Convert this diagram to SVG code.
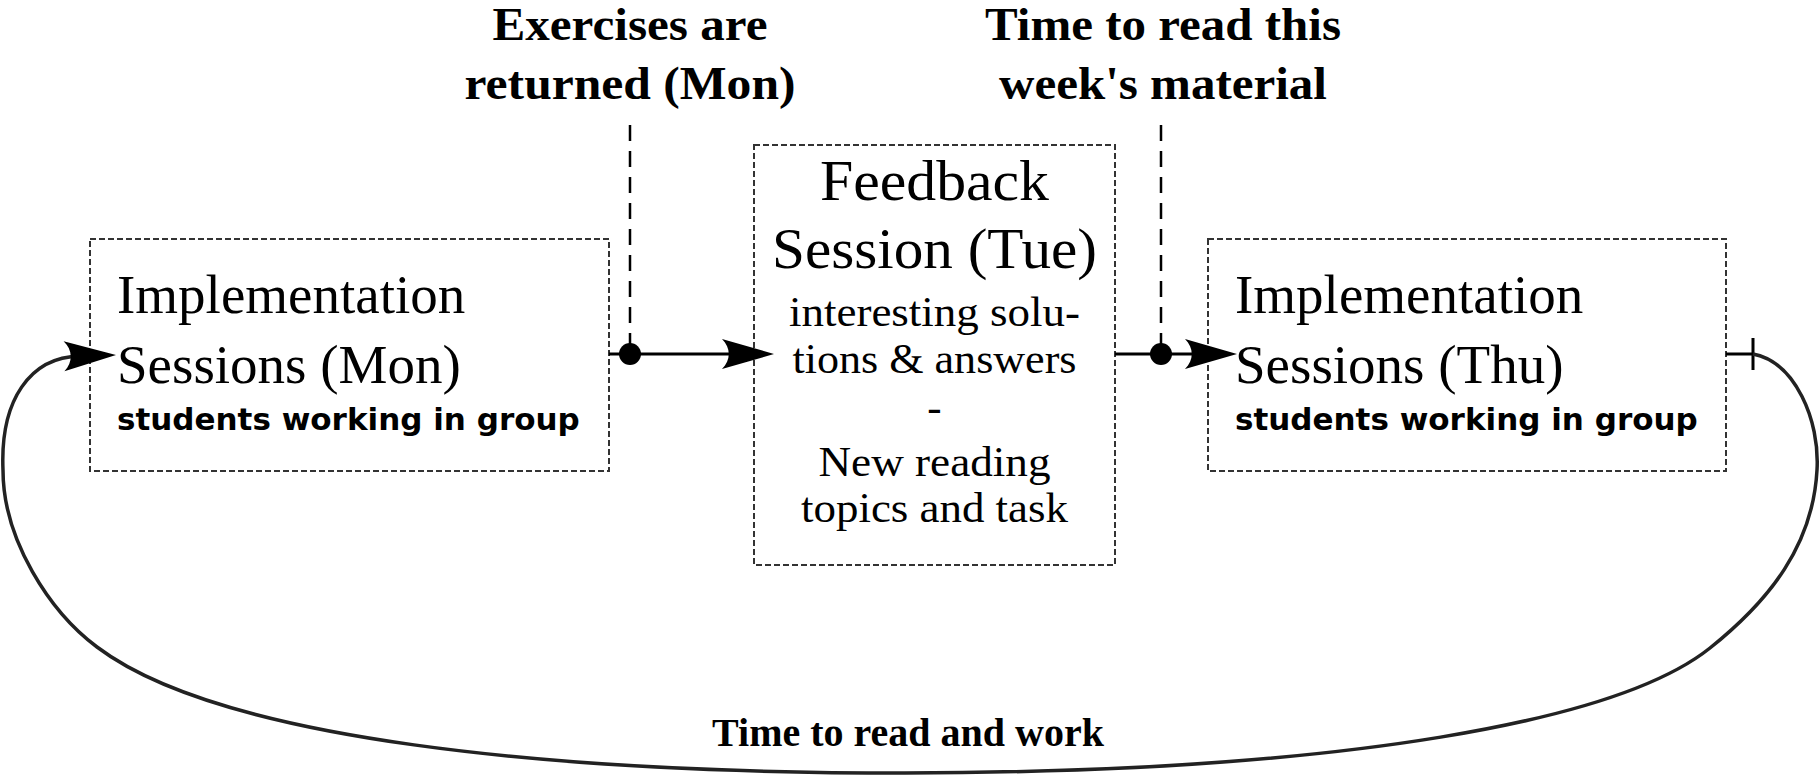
<svg xmlns="http://www.w3.org/2000/svg" width="1819" height="776" viewBox="0 0 1819 776">
<style>
.box{fill:#fff;stroke:#333;stroke-width:2;stroke-dasharray:6 3}
.big{font-family:"Liberation Serif",serif;font-size:55px;fill:#000}
.hdr{font-family:"Liberation Serif",serif;font-size:56px;fill:#000}
.body{font-family:"Liberation Serif",serif;font-size:43px;fill:#000}
.sub{font-family:"DejaVu Sans",sans-serif;font-weight:bold;font-size:31px;fill:#000}
.ttl{font-family:"Liberation Serif",serif;font-weight:bold;font-size:46px;fill:#000}
.ln{fill:none;stroke:#000;stroke-width:3}
.dash{fill:none;stroke:#000;stroke-width:2.5;stroke-dasharray:16 10}
.loop{fill:none;stroke:#222;stroke-width:3.5}
.ah{fill:#000}
</style>
<defs>
<path id="ah" d="M0,0 L-52,-15 C-43,-6 -43,6 -52,15 Z"/>
</defs>
<g id="label-exercises">
<text class="ttl" x="630" y="40" text-anchor="middle" textLength="275" lengthAdjust="spacingAndGlyphs">Exercises are</text>
<text class="ttl" x="630" y="99" text-anchor="middle" textLength="331" lengthAdjust="spacingAndGlyphs">returned (Mon)</text>
</g>
<g id="label-time">
<text class="ttl" x="1163" y="40" text-anchor="middle" textLength="356" lengthAdjust="spacingAndGlyphs">Time to read this</text>
<text class="ttl" x="1163" y="99" text-anchor="middle" textLength="328" lengthAdjust="spacingAndGlyphs">week's material</text>
</g>
<g id="impl-mon">
<rect class="box" x="90" y="239" width="519" height="232"/>
<text class="big" x="117" y="313">Implementation</text>
<text class="big" x="117" y="383">Sessions (Mon)</text>
<text class="sub" x="117" y="430">students working in group</text>
</g>
<g id="feedback-tue">
<rect class="box" x="754" y="145" width="361" height="420"/>
<text class="hdr" x="934.5" y="200" text-anchor="middle" textLength="229" lengthAdjust="spacingAndGlyphs">Feedback</text>
<text class="hdr" x="934.5" y="268" text-anchor="middle" textLength="325" lengthAdjust="spacingAndGlyphs">Session (Tue)</text>
<text class="body" x="934.5" y="326" text-anchor="middle" textLength="291" lengthAdjust="spacingAndGlyphs">interesting solu-</text>
<text class="body" x="934.5" y="373" text-anchor="middle" textLength="284" lengthAdjust="spacingAndGlyphs">tions &amp; answers</text>
<text class="body" x="934.5" y="421" text-anchor="middle">-</text>
<text class="body" x="934.5" y="476" text-anchor="middle" textLength="232" lengthAdjust="spacingAndGlyphs">New reading</text>
<text class="body" x="934.5" y="522" text-anchor="middle" textLength="267" lengthAdjust="spacingAndGlyphs">topics and task</text>
</g>
<g id="impl-thu">
<rect class="box" x="1208" y="239" width="518" height="232"/>
<text class="big" x="1235" y="313">Implementation</text>
<text class="big" x="1235" y="383">Sessions (Thu)</text>
<text class="sub" x="1235" y="430">students working in group</text>
</g>
<g id="connectors">
<path class="ln" d="M609,354 H740"/>
<use href="#ah" class="ah" transform="translate(774,354)"/>
<path class="ln" d="M1115,354 H1202"/>
<use href="#ah" class="ah" transform="translate(1237,354)"/>
<path class="dash" d="M630,125 V344"/>
<path class="dash" d="M1161,125 V344"/>
<circle cx="630" cy="354" r="11" fill="#000"/>
<circle cx="1161" cy="354" r="11" fill="#000"/>
<path class="ln" d="M1726,354 H1753 M1753,338 V370"/>
<path class="loop" d="M1753,354 C1795,362 1820,420 1817,470 C1813,545 1770,600 1710,648 C1620,720 1350,772 905,773 C550,773 220,740 97,647 C50,612 3,540 3,470 C0,400 30,357 80,356"/>
<use href="#ah" class="ah" transform="translate(116,355) rotate(-1.5)"/>
<text class="ttl" x="908" y="746" text-anchor="middle" style="font-size:40px">Time to read and work</text>
</g>
</svg>
